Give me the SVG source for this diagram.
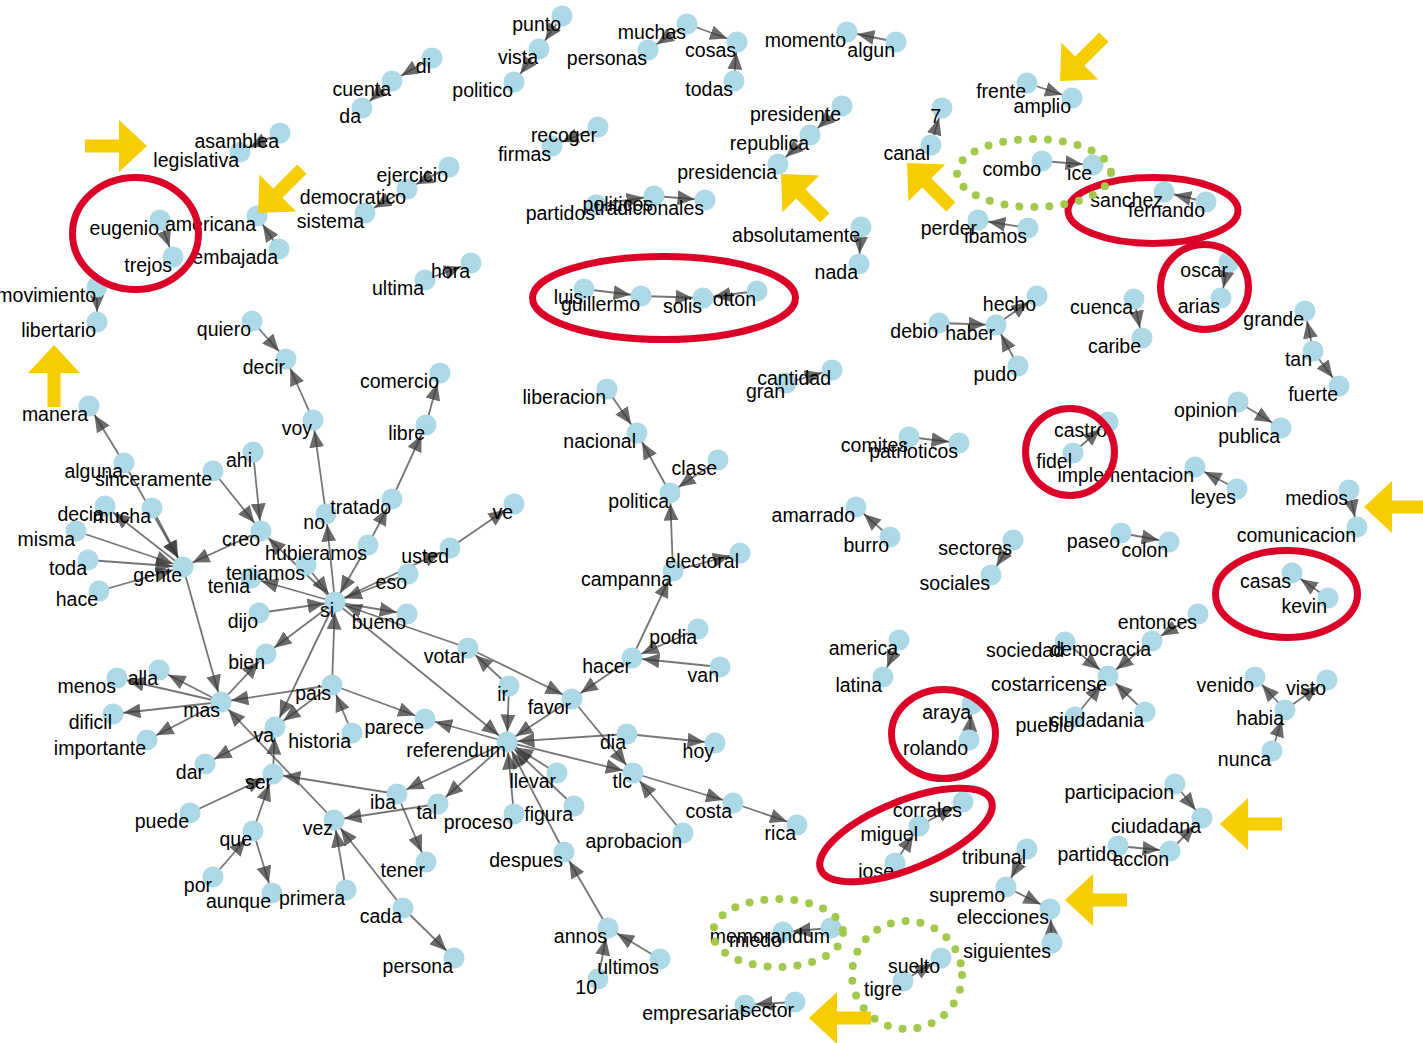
<svg xmlns="http://www.w3.org/2000/svg" width="1423" height="1043" viewBox="0 0 1423 1043">
<defs>
<marker id="ah" markerUnits="userSpaceOnUse" viewBox="0 0 30 15" refX="27.5" refY="7.5" markerWidth="30" markerHeight="15" orient="auto"><path d="M0,0 L17,7.5 L0,15 Z" fill="#3a3a3a" fill-opacity="0.75"/></marker>
<path id="ya" d="M0,0 L-28,-26 L-28,-6.5 L-62,-6.5 L-62,6.5 L-28,6.5 L-28,26 Z"/>
</defs>
<style>
.e line{stroke:#3c3c3c;stroke-opacity:0.7;stroke-width:1.8;fill:none;marker-end:url(#ah)}
.n circle{fill:#add8e6}
.n text{font-family:"Liberation Sans",Arial,Helvetica,sans-serif;font-size:19.5px;fill:#000;text-anchor:end}
.r{fill:none;stroke:#db0027;stroke-width:7}
.g{fill:none;stroke:#a2c94b;stroke-width:8;stroke-linecap:round;stroke-dasharray:0 15}
.y{fill:#f6cd00}
</style>
<rect width="1423" height="1043" fill="#fff"/>
<g id="connectors" class="e">
<line x1="280" y1="133" x2="240" y2="152"/>
<line x1="279" y1="249" x2="257" y2="216"/>
<line x1="160" y1="220" x2="173" y2="257"/>
<line x1="97" y1="287" x2="97" y2="322"/>
<line x1="252" y1="321" x2="286" y2="359"/>
<line x1="562" y1="16" x2="539" y2="49"/>
<line x1="539" y1="49" x2="514" y2="82"/>
<line x1="432" y1="58" x2="392" y2="81"/>
<line x1="392" y1="81" x2="362" y2="108"/>
<line x1="687" y1="24" x2="648" y2="50"/>
<line x1="687" y1="24" x2="737" y2="42"/>
<line x1="734" y1="81" x2="737" y2="42"/>
<line x1="896" y1="42" x2="847" y2="32"/>
<line x1="598" y1="127" x2="552" y2="146"/>
<line x1="449" y1="167" x2="407" y2="189"/>
<line x1="407" y1="189" x2="365" y2="213"/>
<line x1="425" y1="280" x2="471" y2="263"/>
<line x1="596" y1="205" x2="654" y2="196"/>
<line x1="654" y1="196" x2="705" y2="200"/>
<line x1="842" y1="106" x2="810" y2="135"/>
<line x1="810" y1="135" x2="778" y2="164"/>
<line x1="861" y1="227" x2="859" y2="264"/>
<line x1="584" y1="289" x2="641" y2="296"/>
<line x1="641" y1="296" x2="703" y2="298"/>
<line x1="757" y1="291" x2="703" y2="298"/>
<line x1="931" y1="145" x2="942" y2="108"/>
<line x1="1027" y1="83" x2="1072" y2="98"/>
<line x1="1042" y1="161" x2="1093" y2="165"/>
<line x1="1028" y1="228" x2="978" y2="220"/>
<line x1="1206" y1="202" x2="1164" y2="192"/>
<line x1="1229" y1="262" x2="1221" y2="298"/>
<line x1="939" y1="323" x2="996" y2="325"/>
<line x1="996" y1="325" x2="1037" y2="296"/>
<line x1="1018" y1="366" x2="996" y2="325"/>
<line x1="1134" y1="299" x2="1142" y2="338"/>
<line x1="1313" y1="351" x2="1305" y2="311"/>
<line x1="1313" y1="351" x2="1339" y2="386"/>
<line x1="786" y1="383" x2="832" y2="370"/>
<line x1="909" y1="437" x2="959" y2="443"/>
<line x1="1073" y1="453" x2="1108" y2="422"/>
<line x1="1237" y1="489" x2="1195" y2="467"/>
<line x1="1238" y1="402" x2="1281" y2="428"/>
<line x1="1349" y1="490" x2="1357" y2="527"/>
<line x1="890" y1="537" x2="856" y2="507"/>
<line x1="1013" y1="540" x2="991" y2="575"/>
<line x1="1121" y1="533" x2="1169" y2="542"/>
<line x1="1328" y1="598" x2="1292" y2="573"/>
<line x1="1198" y1="614" x2="1152" y2="641"/>
<line x1="1152" y1="641" x2="1108" y2="676"/>
<line x1="1065" y1="642" x2="1108" y2="676"/>
<line x1="1075" y1="717" x2="1108" y2="676"/>
<line x1="1145" y1="712" x2="1108" y2="676"/>
<line x1="899" y1="640" x2="883" y2="677"/>
<line x1="1285" y1="710" x2="1255" y2="677"/>
<line x1="1285" y1="710" x2="1327" y2="680"/>
<line x1="1272" y1="751" x2="1285" y2="710"/>
<line x1="969" y1="740" x2="972" y2="704"/>
<line x1="895" y1="863" x2="919" y2="826"/>
<line x1="919" y1="826" x2="963" y2="802"/>
<line x1="1027" y1="849" x2="1006" y2="887"/>
<line x1="1006" y1="887" x2="1050" y2="909"/>
<line x1="1052" y1="943" x2="1050" y2="909"/>
<line x1="1175" y1="784" x2="1202" y2="818"/>
<line x1="1118" y1="846" x2="1170" y2="851"/>
<line x1="1170" y1="851" x2="1202" y2="818"/>
<line x1="831" y1="928" x2="783" y2="932"/>
<line x1="903" y1="981" x2="941" y2="958"/>
<line x1="795" y1="1002" x2="745" y2="1005"/>
<line x1="607" y1="389" x2="637" y2="433"/>
<line x1="670" y1="493" x2="637" y2="433"/>
<line x1="718" y1="460" x2="670" y2="493"/>
<line x1="673" y1="571" x2="670" y2="493"/>
<line x1="673" y1="571" x2="740" y2="553"/>
<line x1="632" y1="658" x2="673" y2="571"/>
<line x1="698" y1="629" x2="632" y2="658"/>
<line x1="720" y1="667" x2="632" y2="658"/>
<line x1="632" y1="658" x2="572" y2="699"/>
<line x1="313" y1="420" x2="286" y2="359"/>
<line x1="326" y1="514" x2="313" y2="420"/>
<line x1="335" y1="602" x2="326" y2="514"/>
<line x1="368" y1="545" x2="392" y2="499"/>
<line x1="392" y1="499" x2="426" y2="425"/>
<line x1="426" y1="425" x2="440" y2="373"/>
<line x1="450" y1="548" x2="514" y2="504"/>
<line x1="335" y1="602" x2="450" y2="548"/>
<line x1="408" y1="574" x2="335" y2="602"/>
<line x1="335" y1="602" x2="407" y2="614"/>
<line x1="335" y1="602" x2="266" y2="654"/>
<line x1="335" y1="602" x2="261" y2="531"/>
<line x1="335" y1="602" x2="275" y2="727"/>
<line x1="332" y1="685" x2="335" y2="602"/>
<line x1="335" y1="602" x2="507" y2="742"/>
<line x1="468" y1="648" x2="335" y2="602"/>
<line x1="306" y1="565" x2="335" y2="602"/>
<line x1="335" y1="602" x2="251" y2="578"/>
<line x1="259" y1="613" x2="335" y2="602"/>
<line x1="368" y1="545" x2="335" y2="602"/>
<line x1="261" y1="531" x2="183" y2="567"/>
<line x1="253" y1="452" x2="261" y2="531"/>
<line x1="213" y1="471" x2="261" y2="531"/>
<line x1="124" y1="463" x2="89" y2="406"/>
<line x1="124" y1="463" x2="183" y2="567"/>
<line x1="152" y1="508" x2="183" y2="567"/>
<line x1="183" y1="567" x2="105" y2="506"/>
<line x1="76" y1="531" x2="183" y2="567"/>
<line x1="88" y1="560" x2="183" y2="567"/>
<line x1="99" y1="591" x2="183" y2="567"/>
<line x1="183" y1="567" x2="221" y2="702"/>
<line x1="221" y1="702" x2="159" y2="670"/>
<line x1="221" y1="702" x2="117" y2="678"/>
<line x1="221" y1="702" x2="113" y2="714"/>
<line x1="221" y1="702" x2="147" y2="740"/>
<line x1="221" y1="702" x2="266" y2="654"/>
<line x1="332" y1="685" x2="221" y2="702"/>
<line x1="334" y1="820" x2="221" y2="702"/>
<line x1="275" y1="727" x2="205" y2="764"/>
<line x1="332" y1="685" x2="275" y2="727"/>
<line x1="352" y1="733" x2="332" y2="685"/>
<line x1="332" y1="685" x2="425" y2="719"/>
<line x1="190" y1="813" x2="273" y2="774"/>
<line x1="253" y1="831" x2="273" y2="774"/>
<line x1="213" y1="877" x2="253" y2="831"/>
<line x1="253" y1="831" x2="272" y2="893"/>
<line x1="273" y1="774" x2="275" y2="727"/>
<line x1="397" y1="794" x2="273" y2="774"/>
<line x1="397" y1="794" x2="426" y2="862"/>
<line x1="507" y1="742" x2="397" y2="794"/>
<line x1="507" y1="742" x2="438" y2="804"/>
<line x1="438" y1="804" x2="334" y2="820"/>
<line x1="403" y1="908" x2="334" y2="820"/>
<line x1="346" y1="890" x2="334" y2="820"/>
<line x1="403" y1="908" x2="454" y2="958"/>
<line x1="509" y1="686" x2="507" y2="742"/>
<line x1="509" y1="686" x2="468" y2="648"/>
<line x1="468" y1="648" x2="572" y2="699"/>
<line x1="572" y1="699" x2="507" y2="742"/>
<line x1="572" y1="699" x2="633" y2="773"/>
<line x1="507" y1="742" x2="425" y2="719"/>
<line x1="557" y1="773" x2="507" y2="742"/>
<line x1="574" y1="806" x2="507" y2="742"/>
<line x1="514" y1="814" x2="507" y2="742"/>
<line x1="564" y1="852" x2="507" y2="742"/>
<line x1="507" y1="742" x2="633" y2="773"/>
<line x1="627" y1="734" x2="507" y2="742"/>
<line x1="627" y1="734" x2="715" y2="743"/>
<line x1="633" y1="773" x2="733" y2="803"/>
<line x1="733" y1="803" x2="797" y2="825"/>
<line x1="683" y1="833" x2="633" y2="773"/>
<line x1="608" y1="928" x2="564" y2="852"/>
<line x1="598" y1="979" x2="608" y2="928"/>
<line x1="660" y1="959" x2="608" y2="928"/>
</g>
<g id="nodes">
<g id="n-legislativa" class="n"><circle cx="240" cy="152" r="10.5"/><text x="239" y="167">legislativa</text></g>
<g id="n-asamblea" class="n"><circle cx="280" cy="133" r="10.5"/><text x="279" y="148">asamblea</text></g>
<g id="n-eugenio" class="n"><circle cx="160" cy="220" r="10.5"/><text x="159" y="235">eugenio</text></g>
<g id="n-americana" class="n"><circle cx="257" cy="216" r="10.5"/><text x="256" y="231">americana</text></g>
<g id="n-embajada" class="n"><circle cx="279" cy="249" r="10.5"/><text x="278" y="264">embajada</text></g>
<g id="n-trejos" class="n"><circle cx="173" cy="257" r="10.5"/><text x="172" y="272">trejos</text></g>
<g id="n-movimiento" class="n"><circle cx="97" cy="287" r="10.5"/><text x="96" y="302">movimiento</text></g>
<g id="n-libertario" class="n"><circle cx="97" cy="322" r="10.5"/><text x="96" y="337">libertario</text></g>
<g id="n-quiero" class="n"><circle cx="252" cy="321" r="10.5"/><text x="251" y="336">quiero</text></g>
<g id="n-politico" class="n"><circle cx="514" cy="82" r="10.5"/><text x="513" y="97">politico</text></g>
<g id="n-vista" class="n"><circle cx="539" cy="49" r="10.5"/><text x="538" y="64">vista</text></g>
<g id="n-punto" class="n"><circle cx="562" cy="16" r="10.5"/><text x="561" y="31">punto</text></g>
<g id="n-da" class="n"><circle cx="362" cy="108" r="10.5"/><text x="361" y="123">da</text></g>
<g id="n-cuenta" class="n"><circle cx="392" cy="81" r="10.5"/><text x="391" y="96">cuenta</text></g>
<g id="n-di" class="n"><circle cx="432" cy="58" r="10.5"/><text x="431" y="73">di</text></g>
<g id="n-personas" class="n"><circle cx="648" cy="50" r="10.5"/><text x="647" y="65">personas</text></g>
<g id="n-muchas" class="n"><circle cx="687" cy="24" r="10.5"/><text x="686" y="39">muchas</text></g>
<g id="n-cosas" class="n"><circle cx="737" cy="42" r="10.5"/><text x="736" y="57">cosas</text></g>
<g id="n-todas" class="n"><circle cx="734" cy="81" r="10.5"/><text x="733" y="96">todas</text></g>
<g id="n-momento" class="n"><circle cx="847" cy="32" r="10.5"/><text x="846" y="47">momento</text></g>
<g id="n-algun" class="n"><circle cx="896" cy="42" r="10.5"/><text x="895" y="57">algun</text></g>
<g id="n-firmas" class="n"><circle cx="552" cy="146" r="10.5"/><text x="551" y="161">firmas</text></g>
<g id="n-recoger" class="n"><circle cx="598" cy="127" r="10.5"/><text x="597" y="142">recoger</text></g>
<g id="n-sistema" class="n"><circle cx="365" cy="213" r="10.5"/><text x="364" y="228">sistema</text></g>
<g id="n-democratico" class="n"><circle cx="407" cy="189" r="10.5"/><text x="406" y="204">democratico</text></g>
<g id="n-ejercicio" class="n"><circle cx="449" cy="167" r="10.5"/><text x="448" y="182">ejercicio</text></g>
<g id="n-ultima" class="n"><circle cx="425" cy="280" r="10.5"/><text x="424" y="295">ultima</text></g>
<g id="n-hora" class="n"><circle cx="471" cy="263" r="10.5"/><text x="470" y="278">hora</text></g>
<g id="n-partidos" class="n"><circle cx="596" cy="205" r="10.5"/><text x="595" y="220">partidos</text></g>
<g id="n-politicos" class="n"><circle cx="654" cy="196" r="10.5"/><text x="653" y="211">politicos</text></g>
<g id="n-tradicionales" class="n"><circle cx="705" cy="200" r="10.5"/><text x="704" y="215">tradicionales</text></g>
<g id="n-presidencia" class="n"><circle cx="778" cy="164" r="10.5"/><text x="777" y="179">presidencia</text></g>
<g id="n-republica" class="n"><circle cx="810" cy="135" r="10.5"/><text x="809" y="150">republica</text></g>
<g id="n-presidente" class="n"><circle cx="842" cy="106" r="10.5"/><text x="841" y="121">presidente</text></g>
<g id="n-absolutamente" class="n"><circle cx="861" cy="227" r="10.5"/><text x="860" y="242">absolutamente</text></g>
<g id="n-nada" class="n"><circle cx="859" cy="264" r="10.5"/><text x="858" y="279">nada</text></g>
<g id="n-luis" class="n"><circle cx="584" cy="289" r="10.5"/><text x="583" y="304">luis</text></g>
<g id="n-guillermo" class="n"><circle cx="641" cy="296" r="10.5"/><text x="640" y="311">guillermo</text></g>
<g id="n-solis" class="n"><circle cx="703" cy="298" r="10.5"/><text x="702" y="313">solis</text></g>
<g id="n-otton" class="n"><circle cx="757" cy="291" r="10.5"/><text x="756" y="306">otton</text></g>
<g id="n-7" class="n"><circle cx="942" cy="108" r="10.5"/><text x="941" y="123">7</text></g>
<g id="n-canal" class="n"><circle cx="931" cy="145" r="10.5"/><text x="930" y="160">canal</text></g>
<g id="n-frente" class="n"><circle cx="1027" cy="83" r="10.5"/><text x="1026" y="98">frente</text></g>
<g id="n-amplio" class="n"><circle cx="1072" cy="98" r="10.5"/><text x="1071" y="113">amplio</text></g>
<g id="n-combo" class="n"><circle cx="1042" cy="161" r="10.5"/><text x="1041" y="176">combo</text></g>
<g id="n-ice" class="n"><circle cx="1093" cy="165" r="10.5"/><text x="1092" y="180">ice</text></g>
<g id="n-perder" class="n"><circle cx="978" cy="220" r="10.5"/><text x="977" y="235">perder</text></g>
<g id="n-ibamos" class="n"><circle cx="1028" cy="228" r="10.5"/><text x="1027" y="243">ibamos</text></g>
<g id="n-sanchez" class="n"><circle cx="1164" cy="192" r="10.5"/><text x="1163" y="207">sanchez</text></g>
<g id="n-fernando" class="n"><circle cx="1206" cy="202" r="10.5"/><text x="1205" y="217">fernando</text></g>
<g id="n-oscar" class="n"><circle cx="1229" cy="262" r="10.5"/><text x="1228" y="277">oscar</text></g>
<g id="n-arias" class="n"><circle cx="1221" cy="298" r="10.5"/><text x="1220" y="313">arias</text></g>
<g id="n-debio" class="n"><circle cx="939" cy="323" r="10.5"/><text x="938" y="338">debio</text></g>
<g id="n-haber" class="n"><circle cx="996" cy="325" r="10.5"/><text x="995" y="340">haber</text></g>
<g id="n-hecho" class="n"><circle cx="1037" cy="296" r="10.5"/><text x="1036" y="311">hecho</text></g>
<g id="n-pudo" class="n"><circle cx="1018" cy="366" r="10.5"/><text x="1017" y="381">pudo</text></g>
<g id="n-cuenca" class="n"><circle cx="1134" cy="299" r="10.5"/><text x="1133" y="314">cuenca</text></g>
<g id="n-caribe" class="n"><circle cx="1142" cy="338" r="10.5"/><text x="1141" y="353">caribe</text></g>
<g id="n-grande" class="n"><circle cx="1305" cy="311" r="10.5"/><text x="1304" y="326">grande</text></g>
<g id="n-tan" class="n"><circle cx="1313" cy="351" r="10.5"/><text x="1312" y="366">tan</text></g>
<g id="n-fuerte" class="n"><circle cx="1339" cy="386" r="10.5"/><text x="1338" y="401">fuerte</text></g>
<g id="n-gran" class="n"><circle cx="786" cy="383" r="10.5"/><text x="785" y="398">gran</text></g>
<g id="n-cantidad" class="n"><circle cx="832" cy="370" r="10.5"/><text x="831" y="385">cantidad</text></g>
<g id="n-comites" class="n"><circle cx="909" cy="437" r="10.5"/><text x="908" y="452">comites</text></g>
<g id="n-patrioticos" class="n"><circle cx="959" cy="443" r="10.5"/><text x="958" y="458">patrioticos</text></g>
<g id="n-fidel" class="n"><circle cx="1073" cy="453" r="10.5"/><text x="1072" y="468">fidel</text></g>
<g id="n-castro" class="n"><circle cx="1108" cy="422" r="10.5"/><text x="1107" y="437">castro</text></g>
<g id="n-implementacion" class="n"><circle cx="1195" cy="467" r="10.5"/><text x="1194" y="482">implementacion</text></g>
<g id="n-leyes" class="n"><circle cx="1237" cy="489" r="10.5"/><text x="1236" y="504">leyes</text></g>
<g id="n-opinion" class="n"><circle cx="1238" cy="402" r="10.5"/><text x="1237" y="417">opinion</text></g>
<g id="n-publica" class="n"><circle cx="1281" cy="428" r="10.5"/><text x="1280" y="443">publica</text></g>
<g id="n-medios" class="n"><circle cx="1349" cy="490" r="10.5"/><text x="1348" y="505">medios</text></g>
<g id="n-comunicacion" class="n"><circle cx="1357" cy="527" r="10.5"/><text x="1356" y="542">comunicacion</text></g>
<g id="n-amarrado" class="n"><circle cx="856" cy="507" r="10.5"/><text x="855" y="522">amarrado</text></g>
<g id="n-burro" class="n"><circle cx="890" cy="537" r="10.5"/><text x="889" y="552">burro</text></g>
<g id="n-sectores" class="n"><circle cx="1013" cy="540" r="10.5"/><text x="1012" y="555">sectores</text></g>
<g id="n-sociales" class="n"><circle cx="991" cy="575" r="10.5"/><text x="990" y="590">sociales</text></g>
<g id="n-paseo" class="n"><circle cx="1121" cy="533" r="10.5"/><text x="1120" y="548">paseo</text></g>
<g id="n-colon" class="n"><circle cx="1169" cy="542" r="10.5"/><text x="1168" y="557">colon</text></g>
<g id="n-casas" class="n"><circle cx="1292" cy="573" r="10.5"/><text x="1291" y="588">casas</text></g>
<g id="n-kevin" class="n"><circle cx="1328" cy="598" r="10.5"/><text x="1327" y="613">kevin</text></g>
<g id="n-entonces" class="n"><circle cx="1198" cy="614" r="10.5"/><text x="1197" y="629">entonces</text></g>
<g id="n-sociedad" class="n"><circle cx="1065" cy="642" r="10.5"/><text x="1064" y="657">sociedad</text></g>
<g id="n-democracia" class="n"><circle cx="1152" cy="641" r="10.5"/><text x="1151" y="656">democracia</text></g>
<g id="n-costarricense" class="n"><circle cx="1108" cy="676" r="10.5"/><text x="1107" y="691">costarricense</text></g>
<g id="n-pueblo" class="n"><circle cx="1075" cy="717" r="10.5"/><text x="1074" y="732">pueblo</text></g>
<g id="n-ciudadania" class="n"><circle cx="1145" cy="712" r="10.5"/><text x="1144" y="727">ciudadania</text></g>
<g id="n-america" class="n"><circle cx="899" cy="640" r="10.5"/><text x="898" y="655">america</text></g>
<g id="n-latina" class="n"><circle cx="883" cy="677" r="10.5"/><text x="882" y="692">latina</text></g>
<g id="n-venido" class="n"><circle cx="1255" cy="677" r="10.5"/><text x="1254" y="692">venido</text></g>
<g id="n-habia" class="n"><circle cx="1285" cy="710" r="10.5"/><text x="1284" y="725">habia</text></g>
<g id="n-visto" class="n"><circle cx="1327" cy="680" r="10.5"/><text x="1326" y="695">visto</text></g>
<g id="n-nunca" class="n"><circle cx="1272" cy="751" r="10.5"/><text x="1271" y="766">nunca</text></g>
<g id="n-araya" class="n"><circle cx="972" cy="704" r="10.5"/><text x="971" y="719">araya</text></g>
<g id="n-rolando" class="n"><circle cx="969" cy="740" r="10.5"/><text x="968" y="755">rolando</text></g>
<g id="n-miguel" class="n"><circle cx="919" cy="826" r="10.5"/><text x="918" y="841">miguel</text></g>
<g id="n-corrales" class="n"><circle cx="963" cy="802" r="10.5"/><text x="962" y="817">corrales</text></g>
<g id="n-jose" class="n"><circle cx="895" cy="863" r="10.5"/><text x="894" y="878">jose</text></g>
<g id="n-tribunal" class="n"><circle cx="1027" cy="849" r="10.5"/><text x="1026" y="864">tribunal</text></g>
<g id="n-supremo" class="n"><circle cx="1006" cy="887" r="10.5"/><text x="1005" y="902">supremo</text></g>
<g id="n-elecciones" class="n"><circle cx="1050" cy="909" r="10.5"/><text x="1049" y="924">elecciones</text></g>
<g id="n-siguientes" class="n"><circle cx="1052" cy="943" r="10.5"/><text x="1051" y="958">siguientes</text></g>
<g id="n-participacion" class="n"><circle cx="1175" cy="784" r="10.5"/><text x="1174" y="799">participacion</text></g>
<g id="n-partido" class="n"><circle cx="1118" cy="846" r="10.5"/><text x="1117" y="861">partido</text></g>
<g id="n-accion" class="n"><circle cx="1170" cy="851" r="10.5"/><text x="1169" y="866">accion</text></g>
<g id="n-ciudadana" class="n"><circle cx="1202" cy="818" r="10.5"/><text x="1201" y="833">ciudadana</text></g>
<g id="n-miedo" class="n"><circle cx="783" cy="932" r="10.5"/><text x="782" y="947">miedo</text></g>
<g id="n-memorandum" class="n"><circle cx="831" cy="928" r="10.5"/><text x="830" y="943">memorandum</text></g>
<g id="n-tigre" class="n"><circle cx="903" cy="981" r="10.5"/><text x="902" y="996">tigre</text></g>
<g id="n-suelto" class="n"><circle cx="941" cy="958" r="10.5"/><text x="940" y="973">suelto</text></g>
<g id="n-empresarial" class="n"><circle cx="745" cy="1005" r="10.5"/><text x="744" y="1020">empresarial</text></g>
<g id="n-sector" class="n"><circle cx="795" cy="1002" r="10.5"/><text x="794" y="1017">sector</text></g>
<g id="n-liberacion" class="n"><circle cx="607" cy="389" r="10.5"/><text x="606" y="404">liberacion</text></g>
<g id="n-nacional" class="n"><circle cx="637" cy="433" r="10.5"/><text x="636" y="448">nacional</text></g>
<g id="n-clase" class="n"><circle cx="718" cy="460" r="10.5"/><text x="717" y="475">clase</text></g>
<g id="n-politica" class="n"><circle cx="670" cy="493" r="10.5"/><text x="669" y="508">politica</text></g>
<g id="n-campanna" class="n"><circle cx="673" cy="571" r="10.5"/><text x="672" y="586">campanna</text></g>
<g id="n-electoral" class="n"><circle cx="740" cy="553" r="10.5"/><text x="739" y="568">electoral</text></g>
<g id="n-podia" class="n"><circle cx="698" cy="629" r="10.5"/><text x="697" y="644">podia</text></g>
<g id="n-hacer" class="n"><circle cx="632" cy="658" r="10.5"/><text x="631" y="673">hacer</text></g>
<g id="n-van" class="n"><circle cx="720" cy="667" r="10.5"/><text x="719" y="682">van</text></g>
<g id="n-decir" class="n"><circle cx="286" cy="359" r="10.5"/><text x="285" y="374">decir</text></g>
<g id="n-voy" class="n"><circle cx="313" cy="420" r="10.5"/><text x="312" y="435">voy</text></g>
<g id="n-manera" class="n"><circle cx="89" cy="406" r="10.5"/><text x="88" y="421">manera</text></g>
<g id="n-alguna" class="n"><circle cx="124" cy="463" r="10.5"/><text x="123" y="478">alguna</text></g>
<g id="n-ahi" class="n"><circle cx="253" cy="452" r="10.5"/><text x="252" y="467">ahi</text></g>
<g id="n-sinceramente" class="n"><circle cx="213" cy="471" r="10.5"/><text x="212" y="486">sinceramente</text></g>
<g id="n-decia" class="n"><circle cx="105" cy="506" r="10.5"/><text x="104" y="521">decia</text></g>
<g id="n-mucha" class="n"><circle cx="152" cy="508" r="10.5"/><text x="151" y="523">mucha</text></g>
<g id="n-misma" class="n"><circle cx="76" cy="531" r="10.5"/><text x="75" y="546">misma</text></g>
<g id="n-toda" class="n"><circle cx="88" cy="560" r="10.5"/><text x="87" y="575">toda</text></g>
<g id="n-hace" class="n"><circle cx="99" cy="591" r="10.5"/><text x="98" y="606">hace</text></g>
<g id="n-gente" class="n"><circle cx="183" cy="567" r="10.5"/><text x="182" y="582">gente</text></g>
<g id="n-creo" class="n"><circle cx="261" cy="531" r="10.5"/><text x="260" y="546">creo</text></g>
<g id="n-tenia" class="n"><circle cx="251" cy="578" r="10.5"/><text x="250" y="593">tenia</text></g>
<g id="n-teniamos" class="n"><circle cx="306" cy="565" r="10.5"/><text x="305" y="580">teniamos</text></g>
<g id="n-no" class="n"><circle cx="326" cy="514" r="10.5"/><text x="325" y="529">no</text></g>
<g id="n-hubieramos" class="n"><circle cx="368" cy="545" r="10.5"/><text x="367" y="560">hubieramos</text></g>
<g id="n-tratado" class="n"><circle cx="392" cy="499" r="10.5"/><text x="391" y="514">tratado</text></g>
<g id="n-libre" class="n"><circle cx="426" cy="425" r="10.5"/><text x="425" y="440">libre</text></g>
<g id="n-comercio" class="n"><circle cx="440" cy="373" r="10.5"/><text x="439" y="388">comercio</text></g>
<g id="n-ve" class="n"><circle cx="514" cy="504" r="10.5"/><text x="513" y="519">ve</text></g>
<g id="n-usted" class="n"><circle cx="450" cy="548" r="10.5"/><text x="449" y="563">usted</text></g>
<g id="n-eso" class="n"><circle cx="408" cy="574" r="10.5"/><text x="407" y="589">eso</text></g>
<g id="n-dijo" class="n"><circle cx="259" cy="613" r="10.5"/><text x="258" y="628">dijo</text></g>
<g id="n-si" class="n"><circle cx="335" cy="602" r="10.5"/><text x="334" y="617">si</text></g>
<g id="n-bueno" class="n"><circle cx="407" cy="614" r="10.5"/><text x="406" y="629">bueno</text></g>
<g id="n-bien" class="n"><circle cx="266" cy="654" r="10.5"/><text x="265" y="669">bien</text></g>
<g id="n-menos" class="n"><circle cx="117" cy="678" r="10.5"/><text x="116" y="693">menos</text></g>
<g id="n-alla" class="n"><circle cx="159" cy="670" r="10.5"/><text x="158" y="685">alla</text></g>
<g id="n-pais" class="n"><circle cx="332" cy="685" r="10.5"/><text x="331" y="700">pais</text></g>
<g id="n-mas" class="n"><circle cx="221" cy="702" r="10.5"/><text x="220" y="717">mas</text></g>
<g id="n-dificil" class="n"><circle cx="113" cy="714" r="10.5"/><text x="112" y="729">dificil</text></g>
<g id="n-importante" class="n"><circle cx="147" cy="740" r="10.5"/><text x="146" y="755">importante</text></g>
<g id="n-va" class="n"><circle cx="275" cy="727" r="10.5"/><text x="274" y="742">va</text></g>
<g id="n-historia" class="n"><circle cx="352" cy="733" r="10.5"/><text x="351" y="748">historia</text></g>
<g id="n-dar" class="n"><circle cx="205" cy="764" r="10.5"/><text x="204" y="779">dar</text></g>
<g id="n-ser" class="n"><circle cx="273" cy="774" r="10.5"/><text x="272" y="789">ser</text></g>
<g id="n-puede" class="n"><circle cx="190" cy="813" r="10.5"/><text x="189" y="828">puede</text></g>
<g id="n-que" class="n"><circle cx="253" cy="831" r="10.5"/><text x="252" y="846">que</text></g>
<g id="n-por" class="n"><circle cx="213" cy="877" r="10.5"/><text x="212" y="892">por</text></g>
<g id="n-aunque" class="n"><circle cx="272" cy="893" r="10.5"/><text x="271" y="908">aunque</text></g>
<g id="n-primera" class="n"><circle cx="346" cy="890" r="10.5"/><text x="345" y="905">primera</text></g>
<g id="n-vez" class="n"><circle cx="334" cy="820" r="10.5"/><text x="333" y="835">vez</text></g>
<g id="n-tal" class="n"><circle cx="438" cy="804" r="10.5"/><text x="437" y="819">tal</text></g>
<g id="n-iba" class="n"><circle cx="397" cy="794" r="10.5"/><text x="396" y="809">iba</text></g>
<g id="n-tener" class="n"><circle cx="426" cy="862" r="10.5"/><text x="425" y="877">tener</text></g>
<g id="n-cada" class="n"><circle cx="403" cy="908" r="10.5"/><text x="402" y="923">cada</text></g>
<g id="n-persona" class="n"><circle cx="454" cy="958" r="10.5"/><text x="453" y="973">persona</text></g>
<g id="n-parece" class="n"><circle cx="425" cy="719" r="10.5"/><text x="424" y="734">parece</text></g>
<g id="n-votar" class="n"><circle cx="468" cy="648" r="10.5"/><text x="467" y="663">votar</text></g>
<g id="n-ir" class="n"><circle cx="509" cy="686" r="10.5"/><text x="508" y="701">ir</text></g>
<g id="n-favor" class="n"><circle cx="572" cy="699" r="10.5"/><text x="571" y="714">favor</text></g>
<g id="n-referendum" class="n"><circle cx="507" cy="742" r="10.5"/><text x="506" y="757">referendum</text></g>
<g id="n-dia" class="n"><circle cx="627" cy="734" r="10.5"/><text x="626" y="749">dia</text></g>
<g id="n-hoy" class="n"><circle cx="715" cy="743" r="10.5"/><text x="714" y="758">hoy</text></g>
<g id="n-tlc" class="n"><circle cx="633" cy="773" r="10.5"/><text x="632" y="788">tlc</text></g>
<g id="n-costa" class="n"><circle cx="733" cy="803" r="10.5"/><text x="732" y="818">costa</text></g>
<g id="n-rica" class="n"><circle cx="797" cy="825" r="10.5"/><text x="796" y="840">rica</text></g>
<g id="n-aprobacion" class="n"><circle cx="683" cy="833" r="10.5"/><text x="682" y="848">aprobacion</text></g>
<g id="n-llevar" class="n"><circle cx="557" cy="773" r="10.5"/><text x="556" y="788">llevar</text></g>
<g id="n-proceso" class="n"><circle cx="514" cy="814" r="10.5"/><text x="513" y="829">proceso</text></g>
<g id="n-figura" class="n"><circle cx="574" cy="806" r="10.5"/><text x="573" y="821">figura</text></g>
<g id="n-despues" class="n"><circle cx="564" cy="852" r="10.5"/><text x="563" y="867">despues</text></g>
<g id="n-annos" class="n"><circle cx="608" cy="928" r="10.5"/><text x="607" y="943">annos</text></g>
<g id="n-10" class="n"><circle cx="598" cy="979" r="10.5"/><text x="597" y="994">10</text></g>
<g id="n-ultimos" class="n"><circle cx="660" cy="959" r="10.5"/><text x="659" y="974">ultimos</text></g>
</g>
<g id="highlights">
<ellipse class="r" cx="135.5" cy="233.5" rx="63" ry="56"/>
<ellipse class="r" cx="664" cy="298" rx="131.5" ry="41.5"/>
<ellipse class="r" cx="1153" cy="210.5" rx="85" ry="33"/>
<ellipse class="r" cx="1204.5" cy="287" rx="44" ry="42.5"/>
<ellipse class="r" cx="1070" cy="452" rx="44.5" ry="43.5"/>
<ellipse class="r" cx="1286.5" cy="594" rx="71" ry="43.5"/>
<ellipse class="r" cx="943.5" cy="734" rx="52" ry="44.5"/>
<ellipse class="r" cx="0" cy="0" rx="92" ry="34" transform="translate(906 835) rotate(-22)"/>
<ellipse class="g" cx="1034" cy="173" rx="77" ry="34"/>
<ellipse class="g" cx="778" cy="933" rx="65" ry="34"/>
<ellipse class="g" cx="907" cy="975" rx="55" ry="54"/>
</g>
<g id="arrows" class="y">
<use href="#ya" transform="translate(147 146)"/>
<use href="#ya" transform="translate(54 345) rotate(-90)"/>
<use href="#ya" transform="translate(258 213) rotate(135)"/>
<use href="#ya" transform="translate(781 174) rotate(-135)"/>
<use href="#ya" transform="translate(907 163) rotate(-135)"/>
<use href="#ya" transform="translate(1060 81) rotate(135)"/>
<use href="#ya" transform="translate(1364 507) rotate(180)"/>
<use href="#ya" transform="translate(1220 824) rotate(180)"/>
<use href="#ya" transform="translate(1065 900) rotate(180)"/>
<use href="#ya" transform="translate(809 1018) rotate(180)"/>
</g>
</svg>
